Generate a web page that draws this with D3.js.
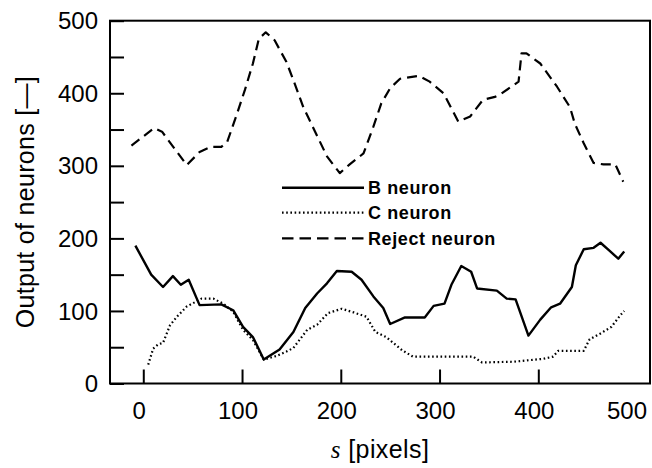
<!DOCTYPE html>
<html>
<head>
<meta charset="utf-8">
<script src="https://cdn.jsdelivr.net/npm/d3@7/dist/d3.min.js"></script>
<style>
  body { margin: 0; background: #fff; }
  svg { display: block; }
</style>
</head>
<body>
<svg id="chart" width="652" height="468"></svg>
<script>
// Neuron outputs along the scan position s [pixels]
const bS = [-8, 8, 20, 30, 38, 46, 57, 79, 91, 101, 111, 122, 138, 152, 164, 176, 186, 196, 211, 221, 233, 243, 250, 265, 285, 294, 305, 312, 322, 332, 338, 358, 368, 377, 390, 402, 413, 422, 434, 438, 446, 456, 463, 472, 481, 487];
const bV = [190, 150, 133, 148, 136, 143, 108, 109, 101, 78, 64, 33, 47, 71, 104, 124, 138, 155, 154, 143, 120, 104, 82, 91, 91, 107, 110, 136, 162, 154, 131, 128, 117, 116, 66, 88, 105, 110, 133, 163, 185, 187, 194, 183, 172, 182];

const cS = [5, 10, 15, 20, 27, 34, 44, 59, 71, 81, 91, 101, 111, 122, 135, 145, 152, 166, 176, 187, 201, 213, 226, 235, 246, 262, 273, 300, 334, 343, 375, 405, 415, 420, 446, 452, 463, 474, 483, 487];
const cV = [26, 48, 54, 56, 80, 92, 106, 117, 117, 110, 99, 74, 60, 33, 38, 44, 49, 74, 81, 97, 103, 98, 92, 71, 64, 46, 37, 37, 37, 29, 30, 34, 37, 45, 45, 61, 69, 78, 94, 100];

const rS = [-12, 11, 19, 44, 57, 68, 79, 85, 95, 103, 111, 117, 124, 133, 145, 152, 162, 174, 186, 199, 209, 223, 233, 241, 250, 260, 279, 290, 304, 319, 331, 344, 356, 361, 380, 383, 388, 402, 419, 432, 437, 446, 456, 466, 478, 486];
const rV = [328, 352, 347, 301, 319, 326, 326, 333, 372, 405, 441, 475, 484, 473, 443, 418, 381, 347, 313, 290, 302, 317, 354, 386, 407, 420, 424, 416, 400, 361, 368, 391, 395, 398, 416, 455, 455, 441, 409, 381, 358, 331, 304, 302, 302, 278];

const seriesNames = ["B neuron", "C neuron", "Reject neuron"];
const xTickValues = [0, 100, 200, 300, 400];
const xTickLabels = [0, 100, 200, 300, 400, 500];
const yTickValues = [0, 50, 100, 150, 200, 250, 300, 350, 400, 450, 500];
const yTickLabels = [0, 100, 200, 300, 400, 500];

const svg = d3.select("#chart");
const plotLeft = 110, plotRight = 650, plotTop = 20.7, plotBottom = 383.5;

const x = d3.scaleLinear().domain([-33.7, 513.1]).range([plotLeft, plotRight]);
const y = d3.scaleLinear().domain([0, 500]).range([plotBottom, plotTop]);

const styles = [
  { dash: null, width: 2.4 },
  { dash: "1.6,2.6", width: 2.2 },
  { dash: "10,6", width: 2.2 }
];

const series = [
  { name: seriesNames[0], pts: bS.map((s, i) => [s, bV[i]]), style: styles[0] },
  { name: seriesNames[1], pts: cS.map((s, i) => [s, cV[i]]), style: styles[1] },
  { name: seriesNames[2], pts: rS.map((s, i) => [s, rV[i]]), style: styles[2] }
];

const line = d3.line().x(d => x(d[0])).y(d => y(d[1]));

// Data lines
svg.append("g").selectAll("path").data(series).join("path")
  .attr("d", d => line(d.pts))
  .attr("fill", "none")
  .attr("stroke", "#000")
  .attr("stroke-width", d => d.style.width)
  .attr("stroke-dasharray", d => d.style.dash)
  .attr("stroke-linejoin", "round");

// Inward ticks
const yAxis = d3.axisRight(y).tickValues(yTickValues).tickSize(14).tickFormat("");
const gy = svg.append("g").attr("transform", `translate(${plotLeft},0)`).call(yAxis);
gy.select(".domain").remove();
gy.selectAll(".tick line").attr("stroke", "#000").attr("stroke-width", 2);

const xAxis = d3.axisTop(x).tickValues(xTickValues).tickSize(14).tickFormat("");
const gx = svg.append("g").attr("transform", `translate(0,${plotBottom})`).call(xAxis);
gx.select(".domain").remove();
gx.selectAll(".tick line").attr("stroke", "#000").attr("stroke-width", 2);

// Frame
svg.append("rect")
  .attr("x", plotLeft).attr("y", plotTop)
  .attr("width", plotRight - plotLeft).attr("height", plotBottom - plotTop)
  .attr("fill", "none").attr("stroke", "#000").attr("stroke-width", 2);

// Tick labels
const tickFont = "'Liberation Sans', Arial, sans-serif";
svg.append("g").selectAll("text").data(yTickLabels).join("text")
  .attr("x", 98).attr("y", d => y(d) + 8.6)
  .attr("text-anchor", "end")
  .attr("font-family", tickFont).attr("font-size", 24)
  .text(d => d);

svg.append("g").selectAll("text").data(xTickLabels).join("text")
  .attr("x", d => Math.min(x(d) - 4, 627))
  .attr("y", 419)
  .attr("text-anchor", "middle")
  .attr("font-family", tickFont).attr("font-size", 24)
  .text(d => d);

// Axis titles, centred on the plot frame
svg.append("text")
  .attr("transform", `translate(33.5,${(plotTop + plotBottom) / 2}) rotate(-90)`)
  .attr("text-anchor", "middle")
  .attr("font-family", tickFont).attr("font-size", 25)
  .attr("letter-spacing", 0.3)
  .text("Output of neurons [\u2014]");

const xt = svg.append("text")
  .attr("x", (plotLeft + plotRight) / 2).attr("y", 458)
  .attr("text-anchor", "middle")
  .attr("font-family", tickFont).attr("font-size", 25)
  .attr("letter-spacing", 0.4);
xt.append("tspan").attr("font-family", "'Liberation Serif', 'Times New Roman', serif")
  .attr("font-style", "italic").text("s");
xt.append("tspan").text(" [pixels]");

// Legend
const legY = [187.7, 212.7, 238.3];
const leg = svg.append("g").selectAll("g").data(series).join("g")
  .attr("transform", (d, i) => `translate(0,${legY[i]})`);
leg.append("line")
  .attr("x1", 282).attr("x2", 364).attr("y1", 0).attr("y2", 0)
  .attr("stroke", "#000")
  .attr("stroke-width", d => d.style.width)
  .attr("stroke-dasharray", (d, i) => i === 2 ? "11.5,6" : d.style.dash);
leg.append("text")
  .attr("x", 368).attr("y", 6.3)
  .attr("font-family", tickFont).attr("font-size", 18).attr("font-weight", "bold")
  .attr("letter-spacing", 0.6)
  .text(d => d.name);
</script>
</body>
</html>
